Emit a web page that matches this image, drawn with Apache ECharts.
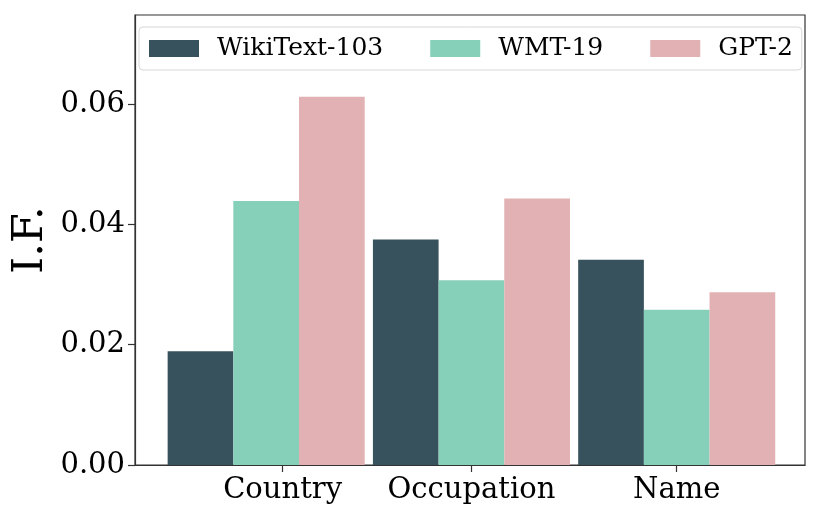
<!DOCTYPE html>
<html>
<head>
<meta charset="utf-8">
<script src="https://cdn.jsdelivr.net/npm/echarts@6/dist/echarts.min.js"></script>
<style>html,body{margin:0;padding:0;background:#fff}#c{width:830px;height:519px}</style>
</head>
<body>
<div id="c"></div>
<script>
const categories = ['Country', 'Occupation', 'Name'];
const seriesNames = ['WikiText-103', 'WMT-19', 'GPT-2'];
const wikiText = [0.0189, 0.0375, 0.0341];
const wmt19 = [0.0439, 0.0307, 0.0258];
const gpt2 = [0.0612, 0.0443, 0.0287];
const yTicks = [0, 0.02, 0.04, 0.06];
const xTickPos = [0.08, 1, 2];

const colors = ['#37525d', '#86cfb9', '#e2b1b4'];
const values = [wikiText, wmt19, gpt2];
const barW = 0.32;
const offsets = [-barW, 0, barW];

const chart = echarts.init(document.getElementById('c'), null, {renderer: 'canvas'});
const font = 'DejaVu Serif';

const series = values.map((arr, si) => ({
  type: 'custom',
  name: seriesNames[si],
  itemStyle: {color: colors[si]},
  data: arr.map((v, i) => [i, v]),
  encode: {x: 0, y: 1},
  renderItem: function (params, api) {
    const xc = api.value(0) + offsets[si];
    const top = api.coord([xc, api.value(1)]);
    const bot = api.coord([xc, 0]);
    const w = api.size([barW, 0])[0];
    return {
      type: 'rect',
      shape: {x: top[0] - w / 2, y: top[1], width: w, height: bot[1] - top[1]},
      style: {fill: api.visual('color')}
    };
  }
}));

chart.setOption({
  animation: false,
  backgroundColor: '#fff',
  grid: {left: 135, right: 25, top: 15, bottom: 54, containLabel: false, outerBoundsMode: 'none',
         show: true, borderColor: '#333', borderWidth: 1.2, backgroundColor: 'transparent'},
  legend: {
    data: seriesNames,
    left: 139, top: 27,
    icon: 'rect',
    itemWidth: 50, itemHeight: 17,
    itemGap: 47,
    padding: [9, 9, 9, 10],
    borderColor: '#d6d6d6', borderWidth: 1, borderRadius: 4,
    textStyle: {fontFamily: font, fontSize: 25, color: '#000', padding: [0, 0, 0, 13]}
  },
  xAxis: {
    type: 'value',
    min: -0.639, max: 2.625,
    splitLine: {show: false},
    axisLine: {show: true, onZero: false, lineStyle: {color: '#333', width: 1.2}},
    axisTick: {show: true, length: 7, customValues: xTickPos, lineStyle: {color: '#333', width: 1.2}},
    axisLabel: {
      customValues: xTickPos,
      fontFamily: font, fontSize: 29, color: '#000', margin: 11,
      formatter: function (v) {
        const idx = xTickPos.findIndex(p => Math.abs(p - v) < 1e-6);
        return idx >= 0 ? categories[idx] : '';
      }
    }
  },
  yAxis: {
    type: 'value',
    min: 0, max: 0.0748,
    name: 'I.F.',
    nameLocation: 'middle',
    nameGap: 83,
    nameMoveOverlap: false,
    nameTextStyle: {fontFamily: font, fontSize: 43, color: '#000'},
    splitLine: {show: false},
    axisLine: {show: true, onZero: false, lineStyle: {color: '#333', width: 1.2}},
    axisTick: {show: true, length: 7, customValues: yTicks, lineStyle: {color: '#333', width: 1.2}},
    axisLabel: {
      customValues: yTicks,
      fontFamily: font, fontSize: 29, color: '#000', margin: 10,
      formatter: v => v.toFixed(2)
    }
  },
  series: series
});
</script>
</body>
</html>
